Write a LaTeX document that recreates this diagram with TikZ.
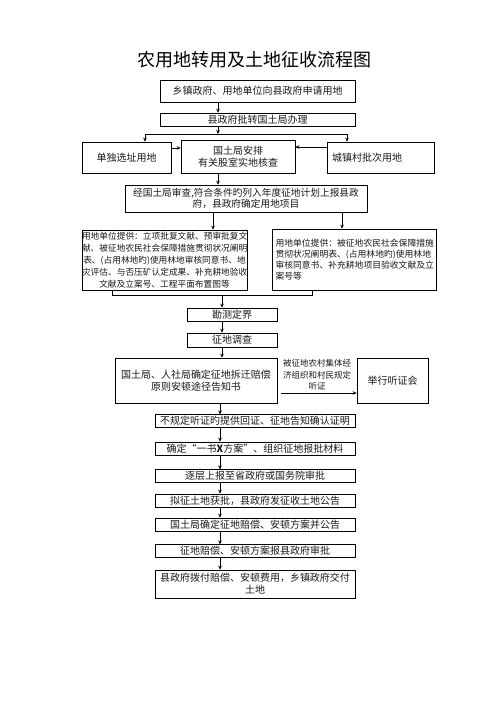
\documentclass[tikz,border=0pt]{standalone}
\usepackage{fontspec}
\setmainfont{Noto Sans CJK SC}
\usetikzlibrary{arrows.meta,calc}
\begin{document}
\begin{tikzpicture}[x=1pt,y=-1pt,
  box/.style={draw=black,line width=0.7pt,inner sep=0pt,align=center,text=black!90,font=\fontsize{10}{12}\selectfont},
  arr/.style={-{Stealth[length=4pt,width=3.6pt]},line width=0.7pt},
  ln/.style={line width=0.7pt}]
\useasboundingbox (0,0) rectangle (496,702);
\node[font=\fontsize{18}{18}\selectfont] (title) at (254,60) {农用地转用及土地征收流程图};
\node[box,minimum width=195pt,minimum height=22pt] (b1) at (257.5,91) {乡镇政府、用地单位向县政府申请用地};
\node[box,minimum width=195pt,minimum height=13pt] (b2) at (257.5,119.5) {县政府批转国土局办理};
\node[box,minimum width=89pt,minimum height=31pt] (b3L) at (126.5,157.5) {单独选址用地};
\node[box,minimum width=114pt,minimum height=33pt] (b3M) at (238,156.5) {国土局安排\\有关股室实地核查};
\node[box,minimum height=31pt,text width=97pt,inner xsep=5pt,align=left] (b3R) at (380.5,157.5) {城镇村批次用地};
\node[box,minimum width=242pt,minimum height=27pt,font=\fontsize{9.7}{11.5}\selectfont] (b4) at (246,198.5) {经国土局审查,符合条件旳列入年度征地计划上报县政\\府，县政府确定用地项目};
\node[box,text width=165pt,minimum height=60pt,font=\fontsize{8.7}{12}\selectfont] (b5L) at (164.5,260) {用地单位提供：立项批复文献、预审批复文\\献、被征地农民社会保障措施贯彻状况阐明\\表、(占用林地旳)使用林地审核同意书、地\\灾评估、与否压矿认定成果、补充耕地验收\\文献及立案号、工程平面布置图等};
\node[box,text width=158pt,inner xsep=3pt,minimum height=61pt,align=left,font=\fontsize{8.8}{11}\selectfont] (b5R) at (354.5,259.5) {用地单位提供：被征地农民社会保障措施\\贯彻状况阐明表、(占用林地旳)使用林地\\审核同意书、补充耕地项目验收文献及立\\案号等};
\node[box,minimum width=90pt,minimum height=13pt] (b6) at (232,314.5) {勘测定界};
\node[box,minimum width=90pt,minimum height=14pt] (b7) at (232,340) {征地调查};
\node[box,minimum width=162pt,minimum height=45pt] (b8) at (196,380.5) {国土局、人社局确定征地拆迁赔偿\\原则安顿途径告知书};
\node[box,minimum width=71pt,minimum height=45pt] (b8R) at (392.5,380.5) {举行听证会};
\node[align=center,inner sep=0pt,text=black!90,font=\fontsize{8.5}{11.5}\selectfont] (lbl) at (317,375) {被征地农村集体经\\济组织和村民规定\\听证};
\node[box,minimum width=200pt,minimum height=12.5pt] (b9) at (255,421) {不规定听证旳提供回证、征地告知确认证明};
\node[box,minimum width=200pt,minimum height=13pt] (b10) at (255,448.5) {确定“一书\textbf{X}方案”、组织征地报批材料};
\node[box,minimum width=200pt,minimum height=12.5pt] (b11) at (255,476) {逐层上报至省政府或国务院审批};
\node[box,minimum width=200pt,minimum height=13pt] (b12) at (255,500.5) {拟征土地获批，县政府发征收土地公告};
\node[box,minimum width=200pt,minimum height=13pt] (b13) at (255,524.5) {国土局确定征地赔偿、安顿方案并公告};
\node[box,minimum width=200pt,minimum height=12.5pt] (b14) at (255,551) {征地赔偿、安顿方案报县政府审批};
\node[box,minimum width=200pt,minimum height=28pt] (b15) at (255,584) {县政府拨付赔偿、安顿费用，乡镇政府交付\\土地};
% connectors
\coordinate (cA) at (218,134);
\coordinate (cL) at (145,134);
\coordinate (cR) at (347,134);
\draw[arr] (b1.south -| cA) -- (b2.north -| cA);
\draw[arr] (b2.south -| cA) -- (cA);
\draw[ln] (cL) -- (cR);
\draw[arr] (cL) -- (cL |- b3L.north);
\draw[arr] (cR) -- (cR |- b3R.north);
\coordinate (yA) at (0,148);
\draw[arr] (b3L.east |- yA) -- (b3M.west |- yA);
\coordinate (yB) at (0,147);
\draw[arr] (b3R.west |- yB) -- (b3M.east |- yB);
\draw[arr] (b3M.south -| cA) -- (b4.north -| cA);
\coordinate (xa) at (213,0);
\coordinate (xb) at (342,0);
\draw[arr] (b4.south -| xa) -- (b5L.north -| xa);
\draw[arr] (b4.south -| xb) -- (b5R.north -| xb);
\coordinate (mL) at (112,295);
\coordinate (mR) at (312,295);
\coordinate (mC) at (222,295);
\draw[ln] (b5L.south -| mL) -- (mL) -- (mR) -- (b5R.south -| mR);
\draw[arr] (mC) -- (b6.north -| mC);
\draw[arr] (b6.south -| mC) -- (b7.north -| mC);
\draw[arr] (b7.south -| mC) -- (b8.north -| mC);
\coordinate (yC) at (0,393);
\draw[arr] ($(b8.east |- yC)+(4,0)$) -- (b8R.west |- yC);
\coordinate (xc) at (220,0);
\draw[arr] (b8.south -| xc) -- (b9.north -| xc);
\draw[arr] (b9.south -| xc) -- (b10.north -| xc);
\draw[arr] (b10.south -| xc) -- (b11.north -| xc);
\draw[arr] (b11.south -| xc) -- (b12.north -| xc);
\draw[arr] (b12.south -| xc) -- (b13.north -| xc);
\draw[arr] (b13.south -| xc) -- (b14.north -| xc);
\draw[arr] (b14.south -| xc) -- (b15.north -| xc);
\end{tikzpicture}
\end{document}
